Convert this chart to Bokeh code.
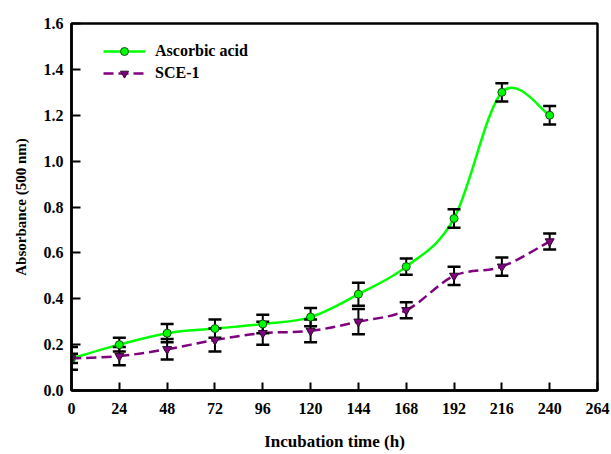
import numpy as np
from bokeh.plotting import figure
from bokeh.models import FixedTicker, NumeralTickFormatter, Range1d, Legend
from bokeh.embed import file_html
from bokeh.resources import INLINE

# ---- data ----
time_h = [0, 24, 48, 72, 96, 120, 144, 168, 192, 216, 240]
ascorbic = [0.14, 0.20, 0.25, 0.27, 0.29, 0.32, 0.42, 0.54, 0.75, 1.30, 1.20]
ascorbic_err = [0.02, 0.03, 0.04, 0.04, 0.04, 0.04, 0.05, 0.035, 0.04, 0.04, 0.04]
sce1 = [0.14, 0.15, 0.18, 0.22, 0.25, 0.26, 0.30, 0.35, 0.50, 0.54, 0.65]
sce1_err = [0.05, 0.04, 0.045, 0.05, 0.05, 0.05, 0.055, 0.035, 0.04, 0.04, 0.035]
x_ticks = [0, 24, 48, 72, 96, 120, 144, 168, 192, 216, 240, 264]
y_ticks = [0.0, 0.2, 0.4, 0.6, 0.8, 1.0, 1.2, 1.4, 1.6]

FONT = "Liberation Serif"


def spline_segments(x, y):
    """Catmull-Rom curve through the data, as cubic Bezier segments."""
    x = np.asarray(x, float)
    y = np.asarray(y, float)
    xp = np.concatenate([[x[0]], x, [x[-1]]])
    yp = np.concatenate([[y[0]], y, [y[-1]]])
    n = len(x)
    d = dict(x0=[], y0=[], x1=[], y1=[], cx0=[], cy0=[], cx1=[], cy1=[])
    for i in range(n - 1):
        j = i + 1
        d["x0"].append(xp[j]); d["y0"].append(yp[j])
        d["x1"].append(xp[j + 1]); d["y1"].append(yp[j + 1])
        d["cx0"].append(xp[j] + (xp[j + 1] - xp[j - 1]) / 6)
        d["cy0"].append(yp[j] + (yp[j + 1] - yp[j - 1]) / 6)
        d["cx1"].append(xp[j + 1] - (xp[j + 2] - xp[j]) / 6)
        d["cy1"].append(yp[j + 1] - (yp[j + 2] - yp[j]) / 6)
    return d


p = figure(width=610, height=454, output_backend="svg", toolbar_location=None,
           x_range=Range1d(0, 264), y_range=Range1d(0, 1.6),
           min_border_left=71, min_border_right=13, min_border_top=23,
           min_border_bottom=64)
p.background_fill_color = "white"
p.border_fill_color = "white"
p.grid.visible = False
p.outline_line_color = "black"
p.outline_line_width = 2.5

t = np.asarray(time_h, float)

# curves
sa = spline_segments(time_h, ascorbic)
ss = spline_segments(time_h, sce1)
ra_line = p.bezier(source=sa, x0="x0", y0="y0", x1="x1", y1="y1", cx0="cx0", cy0="cy0",
                   cx1="cx1", cy1="cy1", line_color="#00FF00", line_width=2.5)
rs_line = p.bezier(source=ss, x0="x0", y0="y0", x1="x1", y1="y1", cx0="cx0", cy0="cy0",
                   cx1="cx1", cy1="cy1", line_color="#800080", line_width=2.5,
                   line_dash="10 5")

# error bars
for yv, ev in ((ascorbic, ascorbic_err), (sce1, sce1_err)):
    yv = np.asarray(yv); ev = np.asarray(ev)
    p.segment(x0=t, y0=yv - ev, x1=t, y1=yv + ev, line_color="black", line_width=2)
    p.scatter(x=np.concatenate([t, t]), y=np.concatenate([yv - ev, yv + ev]),
              marker="dash", size=13, line_color="black", line_width=2.5)

# markers
ra_pts = p.scatter(x=t, y=ascorbic, marker="circle", size=8, fill_color="#00FF00",
                   line_color="#1a4a1a", line_width=1)
rs_pts = p.scatter(x=t, y=sce1, marker="inverted_triangle", size=9,
                   fill_color="#800080", line_color="#2a0a2a", line_width=1)

legend = Legend(items=[("Ascorbic acid", [ra_line, ra_pts]),
                       ("SCE-1", [rs_line, rs_pts])],
                location=(32, 307))
legend.border_line_color = None
legend.background_fill_alpha = 0
legend.padding = 0
legend.margin = 0
legend.spacing = 2
legend.glyph_width = 42
legend.glyph_height = 20
legend.label_height = 20
legend.label_standoff = 10
legend.label_text_font = FONT
legend.label_text_font_style = "bold"
legend.label_text_font_size = "16px"
legend.label_text_color = "black"
p.add_layout(legend)

# axes
for ax in (p.xaxis[0], p.yaxis[0]):
    ax.axis_line_width = 2.5
    ax.axis_line_color = "black"
    ax.major_tick_line_width = 2
    ax.major_tick_line_color = "black"
    ax.major_tick_out = 0
    ax.minor_tick_line_color = None
    ax.major_label_text_font = FONT
    ax.major_label_text_font_style = "bold"
    ax.major_label_text_font_size = "16px"
    ax.major_label_text_color = "black"
    ax.axis_label_text_font = FONT
    ax.axis_label_text_font_style = "bold"
    ax.axis_label_text_color = "black"

p.xaxis.ticker = FixedTicker(ticks=x_ticks)
p.yaxis.ticker = FixedTicker(ticks=y_ticks)
p.yaxis.formatter = NumeralTickFormatter(format="0.0")
p.xaxis.major_tick_in = 8
p.yaxis.major_tick_in = 9
p.xaxis.major_label_standoff = 12
p.yaxis.major_label_standoff = 8
p.xaxis.axis_label = "Incubation time (h)"
p.yaxis.axis_label = "Absorbance (500 nm)"
p.xaxis.axis_label_text_font_size = "17px"
p.yaxis.axis_label_text_font_size = "15px"
p.xaxis.axis_label_standoff = 15
p.yaxis.axis_label_standoff = 12

open("out.html", "w").write(file_html(p, INLINE))
